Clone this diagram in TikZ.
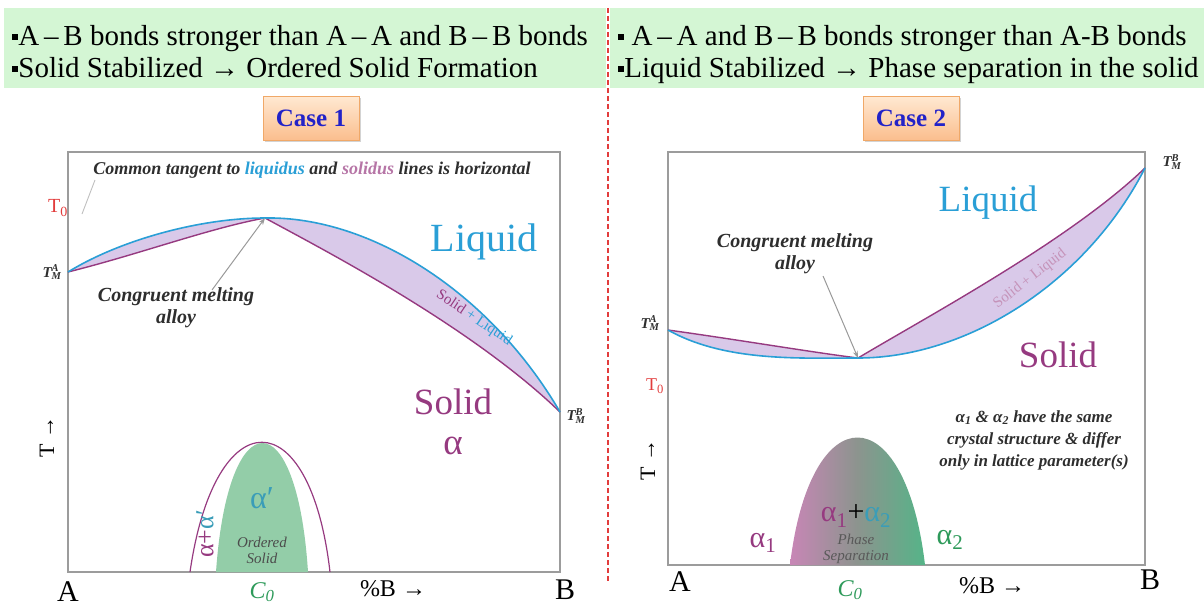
\documentclass[tikz,border=0pt]{standalone}
\usepackage{fontspec}
\setmainfont{Liberation Serif}
\usetikzlibrary{shadows,arrows.meta}
\definecolor{bannergreen}{HTML}{D4F6D4}
\definecolor{liqblue}{HTML}{2A9FD6}
\definecolor{solpurple}{HTML}{963A80}
\definecolor{bandfill}{HTML}{D9C9E9}
\definecolor{tzero}{HTML}{E23C3C}
\definecolor{czero}{HTML}{2E9A5A}
\definecolor{domegreen}{HTML}{93CDA8}
\definecolor{casefontblue}{HTML}{2222C8}
\definecolor{casetop}{HTML}{FFE9D2}
\definecolor{casebot}{HTML}{FBBE8E}
\definecolor{caseedge}{HTML}{F0A868}
\definecolor{framegray}{HTML}{9C9C9C}
\definecolor{notegray}{HTML}{2E2E2E}
\definecolor{alphateal}{HTML}{3A9DB8}
\definecolor{domepink}{HTML}{C886B6}
\definecolor{domemid}{HTML}{8C948E}
\definecolor{domegr}{HTML}{55B488}
\newcommand{\bul}{\rule[0.16em]{0.22em}{0.22em}}
\newcommand{\tlab}[1]{{\bfseries\itshape T\rlap{\textsuperscript{#1}}\textsubscript{M}}}
\begin{document}
\begin{tikzpicture}[x=1pt,y=-1pt,
  every node/.style={inner sep=0pt, outer sep=0pt},
  banner/.style={font=\fontsize{29}{32}\selectfont, anchor=base west},
  casebox/.style={draw=caseedge, line width=0.8pt, top color=casetop, bottom color=casebot,
    minimum width=96pt, minimum height=44pt,
    drop shadow={shadow xshift=2pt, shadow yshift=-2pt, opacity=0.35},
    font=\fontsize{25}{27}\selectfont\bfseries, text=casefontblue},
  frame/.style={draw=framegray, line width=1.6pt},
  liq/.style={draw=liqblue, line width=1.6pt},
  sol/.style={draw=solpurple, line width=1.4pt},
  note/.style={font=\fontsize{20}{22}\selectfont\itshape\bfseries, text=notegray, align=center},
  small/.style={font=\fontsize{15}{16}\selectfont\itshape, text=notegray, align=center},
  axislab/.style={font=\fontsize{30}{32}\selectfont},
  tm/.style={font=\fontsize{15}{16}\selectfont, text=notegray},
  pointer/.style={draw=gray!80, line width=1pt, -{Stealth[length=7pt,width=5pt]}}
]
\useasboundingbox (0,0) rectangle (1204,606);
% banners
\fill[bannergreen] (4,8) rectangle (606,88);
\fill[bannergreen] (610,8) rectangle (1204,88);
\node[banner] (b1) at (12,45) {\bul A\,–\,B bonds stronger than A\,–\,A and B\,–\,B bonds};
\node[banner] (b2) at (12,77) {\bul Solid Stabilized → Ordered Solid Formation};
\node[banner] (b3) at (618,45) {\bul\ A\,–\,A and B\,–\,B bonds stronger than A-B bonds};
\node[banner] (b4) at (618,77) {\bul Liquid Stabilized → Phase separation in the solid};
\draw[tzero, line width=1.2pt, dash pattern=on 5pt off 3pt] (608,8) -- (608,582);
% case boxes
\node[casebox] (c1) at (311,118) {Case 1};
\node[casebox] (c2) at (911,118) {Case 2};

% ---------- left diagram ----------
\draw[frame] (68,152) rectangle (560,572);
\coordinate (tmaL) at (68,272);
\coordinate (peakL) at (265,218);
\coordinate (tmbL) at (560,412);
\fill[bandfill] (tmaL) .. controls (120,240) and (200,218) .. (peakL)
  .. controls (370,216) and (490,292) .. (tmbL)
  .. controls (470,325) and (320,248) .. (peakL)
  .. controls (210,228) and (140,254) .. (tmaL) -- cycle;
\draw[sol] (tmaL) .. controls (140,254) and (210,228) .. (peakL)
  .. controls (320,248) and (470,325) .. (tmbL);
\draw[liq] (tmaL) .. controls (120,240) and (200,218) .. (peakL)
  .. controls (370,216) and (490,292) .. (tmbL);
\node[font=\fontsize{18}{20}\selectfont\itshape\bfseries, text=notegray] (ct) at (312,170)
  {Common tangent to \textcolor{liqblue}{liquidus} and \textcolor{solpurple!70}{solidus} lines is horizontal};
\node[font=\fontsize{20}{22}\selectfont, text=tzero] (t0L) at (58,208) {T\textsubscript{0}};
\coordinate (cttop) at (95,180);
\coordinate (ctfoot) at (82,214);
\draw[gray!50, line width=0.9pt] (cttop) -- (ctfoot);
\node[tm] (lTMA) at (52,272) {\tlab{A}};
\node[tm] (lTMB) at (576,416) {\tlab{B}};
\node[font=\fontsize{40}{42}\selectfont, text=liqblue] (liqL) at (484,242) {Liquid};
\node[align=center, text=solpurple, font=\fontsize{37}{40}\selectfont] (solL) at (453,422) {Solid\\α};
\node[note] (cmL) at (176,308) {Congruent melting\\alloy};
\draw[pointer] ([xshift=-42pt,yshift=-2pt]cmL.north east) -- (peakL);
\node[font=\fontsize{15}{16}\selectfont, rotate=-34] (slL) at (474,318)
  {\textcolor{solpurple}{Solid} \textcolor{liqblue}{+ Liquid}};
% dome left
\coordinate (d1l) at (190,572);
\coordinate (d1r) at (330,572);
\coordinate (d2l) at (216,572);
\coordinate (d2r) at (308,572);
\fill[domegreen] (d2l) .. controls (228,400) and (297,400) .. (d2r) -- cycle;
\draw[solpurple, line width=1.2pt] (d1l) .. controls (215,399) and (310,399) .. (d1r);
\node[font=\fontsize{32}{34}\selectfont, text=alphateal] (ap) at (262,498) {α′};
\node[small, text=black!70] (os) at (262,550) {Ordered\\Solid};
\node[font=\fontsize{26}{28}\selectfont, rotate=90] (aa) at (205,534)
  {\textcolor{solpurple}{α+}\textcolor{alphateal}{α′}};
\node[axislab] (AL) at (68,592) {A};
\node[axislab, text=czero, font=\fontsize{24}{26}\selectfont\itshape] (C0L) at (262,592) {C\textsubscript{0}};
\node[font=\fontsize{24}{26}\selectfont] (pbL) at (393,589) {\%B →};
\node[axislab] (BL) at (565,590) {B};
\node[font=\fontsize{22}{24}\selectfont, rotate=90] (TL) at (47,437) {T →};

% ---------- right diagram ----------
\draw[frame] (668,152) rectangle (1145,565);
\coordinate (tmaR) at (668,330);
\coordinate (minR) at (858,358);
\coordinate (tmbR) at (1145,168);
\fill[bandfill] (tmaR) .. controls (740,340) and (810,352) .. (minR)
  .. controls (930,315) and (1070,240) .. (tmbR)
  .. controls (1085,285) and (965,358) .. (minR)
  .. controls (800,358) and (725,362) .. (tmaR) -- cycle;
\draw[sol] (tmaR) .. controls (740,340) and (810,352) .. (minR)
  .. controls (930,315) and (1070,240) .. (tmbR);
\draw[liq] (tmaR) .. controls (725,362) and (800,358) .. (minR)
  .. controls (965,358) and (1085,285) .. (tmbR);
\node[tm] (rTMA) at (650,323) {\tlab{A}};
\node[tm] (rTMB) at (1172,162) {\tlab{B}};
\node[font=\fontsize{18}{20}\selectfont, text=tzero] (t0R) at (655,386) {T\textsubscript{0}};
\node[font=\fontsize{37}{40}\selectfont, text=liqblue] (liqR) at (988,203) {Liquid};
\node[font=\fontsize{37}{40}\selectfont, text=solpurple] (solR) at (1058,355) {Solid};
\node[note] (cmR) at (795,254) {Congruent melting\\alloy};
\draw[pointer] ([xshift=-50pt,yshift=-2pt]cmR.south east) -- (minR);
\node[font=\fontsize{15}{16}\selectfont, rotate=38, text=solpurple!55] (slR) at (1030,279) {Solid + Liquid};
\node[align=center, font=\fontsize{17}{22}\selectfont\itshape\bfseries, text=notegray] (nt) at (1034,440)
  {α\textsubscript{1} \& α\textsubscript{2} have the same\\crystal structure \& differ\\only in lattice parameter(s)};
% dome right
\coordinate (d3l) at (790,565);
\coordinate (d3r) at (925,565);
\shade[left color=domepink, right color=domegr, middle color=domemid]
  (d3l) .. controls (810,395) and (905,395) .. (d3r) -- cycle;
\node[font=\fontsize{30}{32}\selectfont] (a12) at (856,516)
  {\textcolor{solpurple}{α\textsubscript{1}}+\textcolor{alphateal}{α\textsubscript{2}}};
\node[small, text=black!65] (ps) at (856,549) {Phase\\Separation};
\node[font=\fontsize{30}{32}\selectfont, text=solpurple] (a1) at (763,543) {α\textsubscript{1}};
\node[font=\fontsize{30}{32}\selectfont, text=czero] (a2) at (950,540) {α\textsubscript{2}};
\node[axislab] (AR) at (680,582) {A};
\node[axislab, text=czero, font=\fontsize{24}{26}\selectfont\itshape] (C0R) at (850,590) {C\textsubscript{0}};
\node[font=\fontsize{24}{26}\selectfont] (pbR) at (992,586) {\%B →};
\node[axislab] (BR) at (1150,580) {B};
\node[font=\fontsize{22}{24}\selectfont, rotate=90] (TR) at (648,460) {T →};
\end{tikzpicture}
\end{document}
